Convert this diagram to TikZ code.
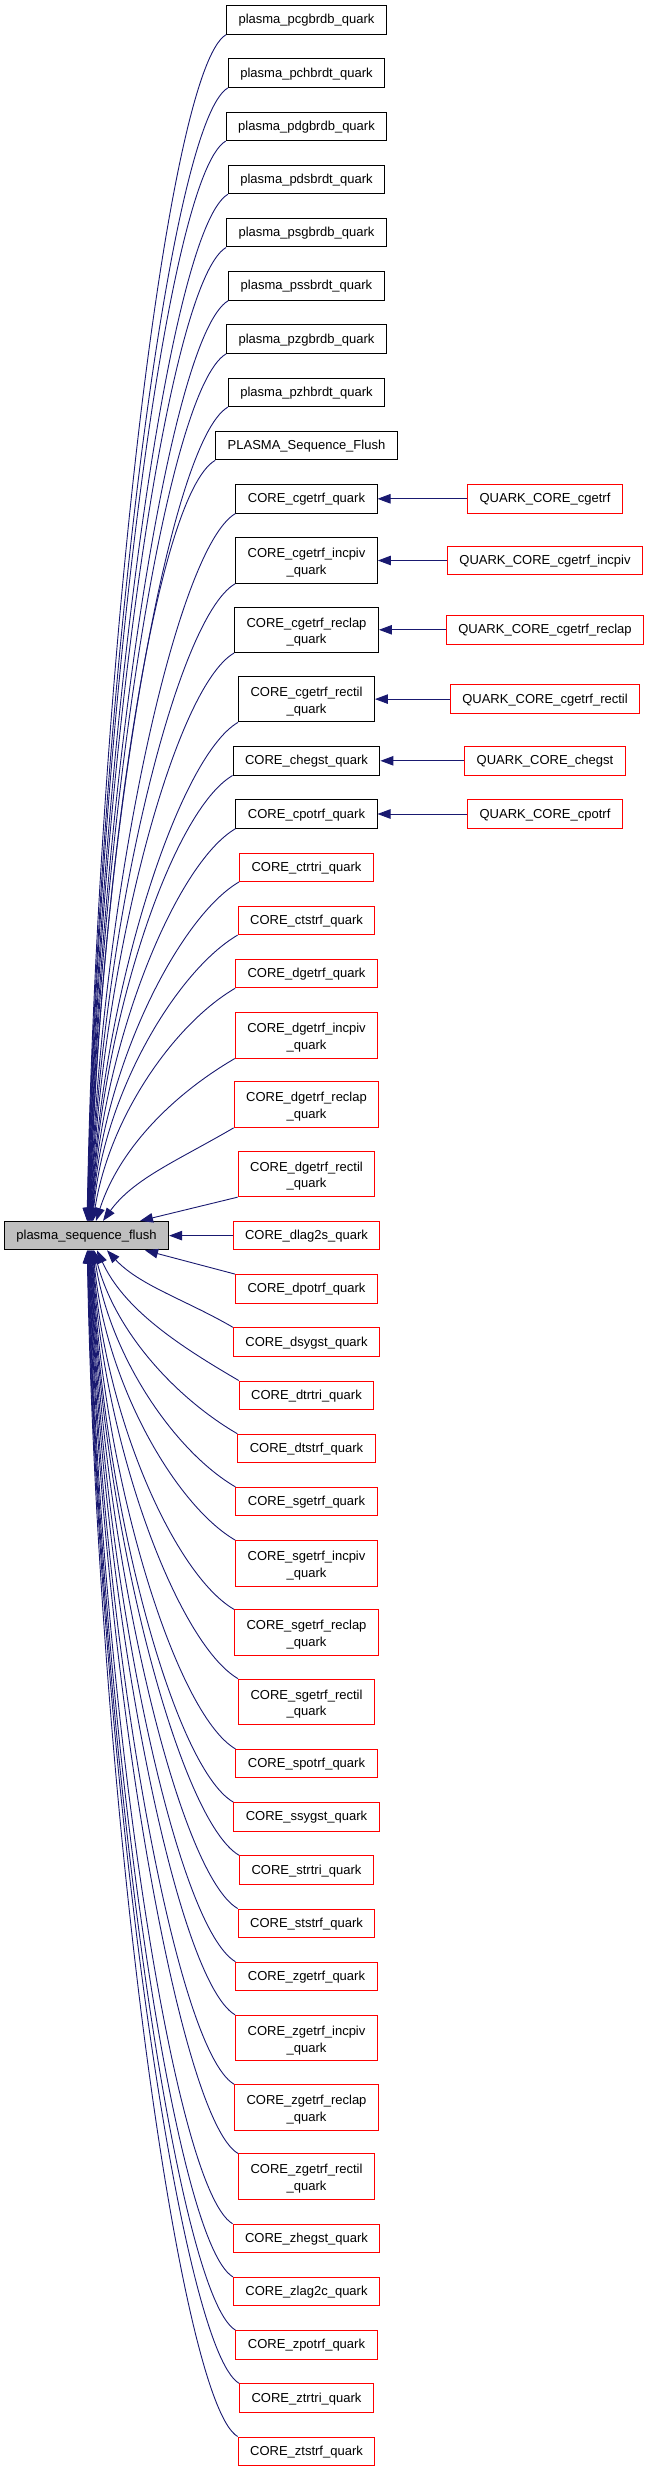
\documentclass[tikz,border=0pt]{standalone}
\usepackage{fontspec}
\setmainfont{Liberation Sans}
\usetikzlibrary{arrows.meta,calc}
\definecolor{navyedge}{HTML}{191970}
\definecolor{greyfill}{HTML}{BFBFBF}
\begin{document}
\begin{tikzpicture}[x=1pt,y=-1pt,
  base/.style={draw, line width=1pt, fill=white, inner xsep=12pt, inner ysep=0pt,
    font=\fontsize{13pt}{16.7pt}\selectfont},
  one/.style={base, minimum height=28.4pt, text height=9.5pt, text depth=1.5pt},
  two/.style={base, minimum height=45.5pt, align=center},
  blk/.style={draw=black},
  redn/.style={draw=red},
  mainnode/.style={one, draw=black, fill=greyfill},
  edge/.style={draw=navyedge, line width=0.9pt, -{Triangle[length=13pt,width=9.5pt]}}
]
\useasboundingbox (0,0) rectangle (651,2472);
\newcommand{\topstrut}{\rule{0pt}{11.1pt}}

% left node
\node[mainnode] (L) at (86.5,1235.6) {plasma\_sequence\_flush};

% middle column
\node[one,blk] (m1) at (306.5,20) {plasma\_pcgbrdb\_quark};
\node[one,blk] (m2) at (306.5,73.2) {plasma\_pchbrdt\_quark};
\node[one,blk] (m3) at (306.5,126.4) {plasma\_pdgbrdb\_quark};
\node[one,blk] (m4) at (306.5,179.6) {plasma\_pdsbrdt\_quark};
\node[one,blk] (m5) at (306.5,232.8) {plasma\_psgbrdb\_quark};
\node[one,blk] (m6) at (306.5,286) {plasma\_pssbrdt\_quark};
\node[one,blk] (m7) at (306.5,339.2) {plasma\_pzgbrdb\_quark};
\node[one,blk] (m8) at (306.5,392.4) {plasma\_pzhbrdt\_quark};
\node[one,blk] (m9) at (306.5,445.6) {PLASMA\_Sequence\_Flush};
\node[one,blk] (m10) at (306.5,498.8) {CORE\_cgetrf\_quark};
\node[two,blk] (m11) at (306.5,560.5) {\topstrut CORE\_cgetrf\_incpiv\\\smash{\_quark}};
\node[two,blk] (m12) at (306.5,629.8) {\topstrut CORE\_cgetrf\_reclap\\\smash{\_quark}};
\node[two,blk] (m13) at (306.5,699.1) {\topstrut CORE\_cgetrf\_rectil\\\smash{\_quark}};
\node[one,blk] (m14) at (306.5,760.8) {CORE\_chegst\_quark};
\node[one,blk] (m15) at (306.5,814) {CORE\_cpotrf\_quark};
\node[one,redn] (m16) at (306.5,867.2) {CORE\_ctrtri\_quark};
\node[one,redn] (m17) at (306.5,920.4) {CORE\_ctstrf\_quark};
\node[one,redn] (m18) at (306.5,973.6) {CORE\_dgetrf\_quark};
\node[two,redn] (m19) at (306.5,1035.3) {\topstrut CORE\_dgetrf\_incpiv\\\smash{\_quark}};
\node[two,redn] (m20) at (306.5,1104.6) {\topstrut CORE\_dgetrf\_reclap\\\smash{\_quark}};
\node[two,redn] (m21) at (306.5,1173.9) {\topstrut CORE\_dgetrf\_rectil\\\smash{\_quark}};
\node[one,redn] (m22) at (306.5,1235.6) {CORE\_dlag2s\_quark};
\node[one,redn] (m23) at (306.5,1288.8) {CORE\_dpotrf\_quark};
\node[one,redn] (m24) at (306.5,1342) {CORE\_dsygst\_quark};
\node[one,redn] (m25) at (306.5,1395.2) {CORE\_dtrtri\_quark};
\node[one,redn] (m26) at (306.5,1448.4) {CORE\_dtstrf\_quark};
\node[one,redn] (m27) at (306.5,1501.6) {CORE\_sgetrf\_quark};
\node[two,redn] (m28) at (306.5,1563.3) {\topstrut CORE\_sgetrf\_incpiv\\\smash{\_quark}};
\node[two,redn] (m29) at (306.5,1632.6) {\topstrut CORE\_sgetrf\_reclap\\\smash{\_quark}};
\node[two,redn] (m30) at (306.5,1701.9) {\topstrut CORE\_sgetrf\_rectil\\\smash{\_quark}};
\node[one,redn] (m31) at (306.5,1763.6) {CORE\_spotrf\_quark};
\node[one,redn] (m32) at (306.5,1816.8) {CORE\_ssygst\_quark};
\node[one,redn] (m33) at (306.5,1870) {CORE\_strtri\_quark};
\node[one,redn] (m34) at (306.5,1923.2) {CORE\_ststrf\_quark};
\node[one,redn] (m35) at (306.5,1976.4) {CORE\_zgetrf\_quark};
\node[two,redn] (m36) at (306.5,2038.1) {\topstrut CORE\_zgetrf\_incpiv\\\smash{\_quark}};
\node[two,redn] (m37) at (306.5,2107.4) {\topstrut CORE\_zgetrf\_reclap\\\smash{\_quark}};
\node[two,redn] (m38) at (306.5,2176.7) {\topstrut CORE\_zgetrf\_rectil\\\smash{\_quark}};
\node[one,redn] (m39) at (306.5,2238.4) {CORE\_zhegst\_quark};
\node[one,redn] (m40) at (306.5,2291.6) {CORE\_zlag2c\_quark};
\node[one,redn] (m41) at (306.5,2344.8) {CORE\_zpotrf\_quark};
\node[one,redn] (m42) at (306.5,2398) {CORE\_ztrtri\_quark};
\node[one,redn] (m43) at (306.5,2451.2) {CORE\_ztstrf\_quark};

% right column
\node[one,redn] (q10) at (545,498.8) {QUARK\_CORE\_cgetrf};
\node[one,redn] (q11) at (545,560.5) {QUARK\_CORE\_cgetrf\_incpiv};
\node[one,redn] (q12) at (545,629.8) {QUARK\_CORE\_cgetrf\_reclap};
\node[one,redn] (q13) at (545,699.1) {QUARK\_CORE\_cgetrf\_rectil};
\node[one,redn] (q14) at (545,760.8) {QUARK\_CORE\_chegst};
\node[one,redn] (q15) at (545,814) {QUARK\_CORE\_cpotrf};

% right-to-middle edges
\foreach \qq/\mm in {q10/m10,q11/m11,q12/m12,q13/m13,q14/m14,q15/m15}
  \draw[edge] (\qq.west) -- (\mm.east);

% upper curves
\foreach \nm/\tx/\pa/\pb/\pc/\hh in {
  m1/0.55/60/35/10/534.2, m2/0.9/60/35/10/510.3, m3/1.25/60/35/10/486.4,
  m4/1.6/60/35/10/462.4, m5/1.95/60/35/10/438.5, m6/2.3/60/35/10/414.5,
  m7/2.65/60/35/10/390.6, m8/3.0/60/35/10/366.7, m9/3.35/60/35/10/342.7,
  m10/3.7/60/35/10/318.8, m11/4.05/60/35/10/287.2, m12/4.4/60/35/10/256,
  m13/4.75/60/35/10/224.8, m14/5.1/60/35/10/200.9, m15/5.45/60/35/10/176.9,
  m16/5.8/60/35/10/153, m17/6.15/60/35/11.3/129.1, m18/6.5/60/35/16.6/105.1,
  m19/9.5/60/35/23.7/73.5, m20/16.5/56.4/32.9/30.6/42.3}
  \draw[edge] (\nm.south west) .. controls ($(\nm.south west)+(-\pa,\pb)$)
     and ($(L.north)+(\tx+\pc,-\hh)$) .. ($(L.north)+(\tx,0)$);

% lower curves
\foreach \nm/\tx/\pa/\pb/\pc/\hh in {
  m24/20.5/46.8/27.3/32.2/35.1, m25/10.5/60/35/26.9/59, m26/7.5/60/35/21.6/83,
  m27/7.1/60/35/16.2/106.9, m28/6.7/60/35/10.9/130.8, m29/6.3/60/35/10/162,
  m30/5.9/60/35/10/193.2, m31/5.5/60/35/10/224.8, m32/5.1/60/35/10/248.8,
  m33/4.7/60/35/10/272.7, m34/4.3/60/35/10/296.6, m35/3.9/60/35/10/320.6,
  m36/3.5/60/35/10/344.5, m37/3.1/60/35/10/375.7, m38/2.7/60/35/10/406.9,
  m39/2.3/60/35/10/438.5, m40/1.9/60/35/10/462.4, m41/1.5/60/35/10/486.4,
  m42/1.1/60/35/10/510.3, m43/0.7/60/35/10/534.2}
  \draw[edge] (\nm.north west) .. controls ($(\nm.north west)+(-\pa,-\pb)$)
     and ($(L.south)+(\tx+\pc,\hh)$) .. ($(L.south)+(\tx,0)$);

% near edges
\draw[edge] (m21.south west) -- ($(L.north)+(53.5,0)$);
\draw[edge] (m22.west) -- (L.east);
\draw[edge] (m23.north west) -- ($(L.south)+(58.5,0)$);
\end{tikzpicture}
\end{document}
